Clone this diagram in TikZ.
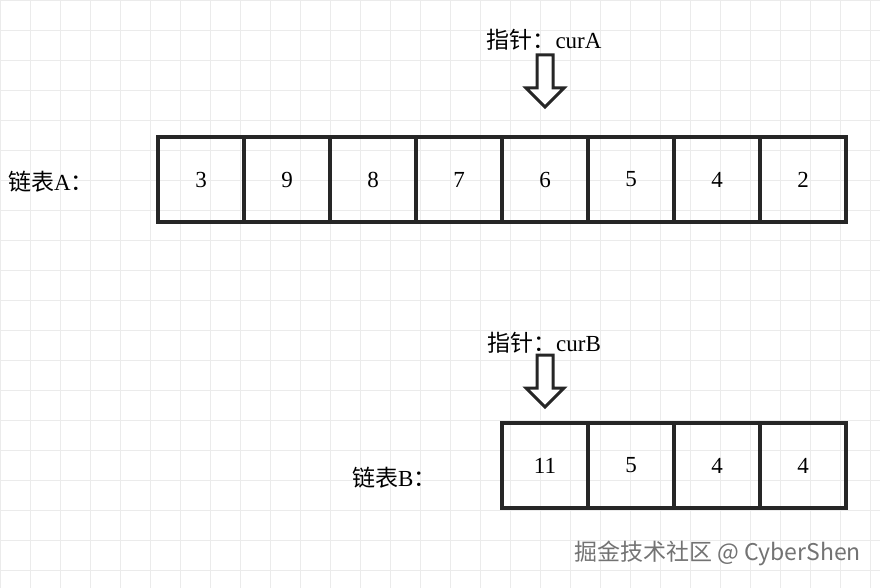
\documentclass[tikz,border=0pt]{standalone}
\usepackage{fontspec}
\setmainfont{Liberation Serif}
\newfontfamily\cjk{Noto Sans CJK SC}
\begin{document}
\begin{tikzpicture}[x=1pt,y=-1pt,
  cell/.style={draw=black!85,line width=3.2pt,minimum width=86pt,minimum height=85pt,inner sep=0,font=\fontsize{23}{23}\selectfont},
  lbl/.style={font=\fontsize{23}{23}\selectfont,inner sep=0},
  fatarrow/.style={draw=black!85,line width=3pt,fill=white,line join=miter}]
\useasboundingbox (0,0) rectangle (880,588);
\fill[white] (0,0) rectangle (880,588);
\foreach \gx in {0,30,...,870} \draw[black!8,line width=0.8pt] (\gx,0) -- (\gx,588);
\foreach \gy in {0,30,...,570} \draw[black!8,line width=0.8pt] (0,\gy) -- (880,\gy);
\foreach \v [count=\i from 0] in {3,9,8,7,6,5,4,2}
  \node[cell] (a\i) at (201+86*\i,179.5) {\v};
\foreach \v [count=\i from 0] in {11,5,4,4}
  \node[cell] (b\i) at (545+86*\i,465.5) {\v};
\node[lbl,anchor=west] (la) at (8,182) {{\cjk 链表}A{\cjk ：}};
\node[lbl,anchor=west] (lb) at (352,478) {{\cjk 链表}B{\cjk ：}};
\node[lbl] (pa) at (544,40) {{\cjk 指针：}curA};
\node[lbl] (pb) at (544,343) {{\cjk 指针：}curB};
\draw[fatarrow] (537,55) -- (553,55) -- (553,88) -- (564,88) -- (545,107) -- (526,88) -- (537,88) -- cycle;
\draw[fatarrow] (537,355) -- (553,355) -- (553,388) -- (564,388) -- (545,407) -- (526,388) -- (537,388) -- cycle;
\node[font=\fontsize{23}{23}\selectfont\cjk,text=black!55,anchor=east,inner sep=0] (wm) at (861,553) {掘金技术社区 @ CyberShen};
\end{tikzpicture}
\end{document}
